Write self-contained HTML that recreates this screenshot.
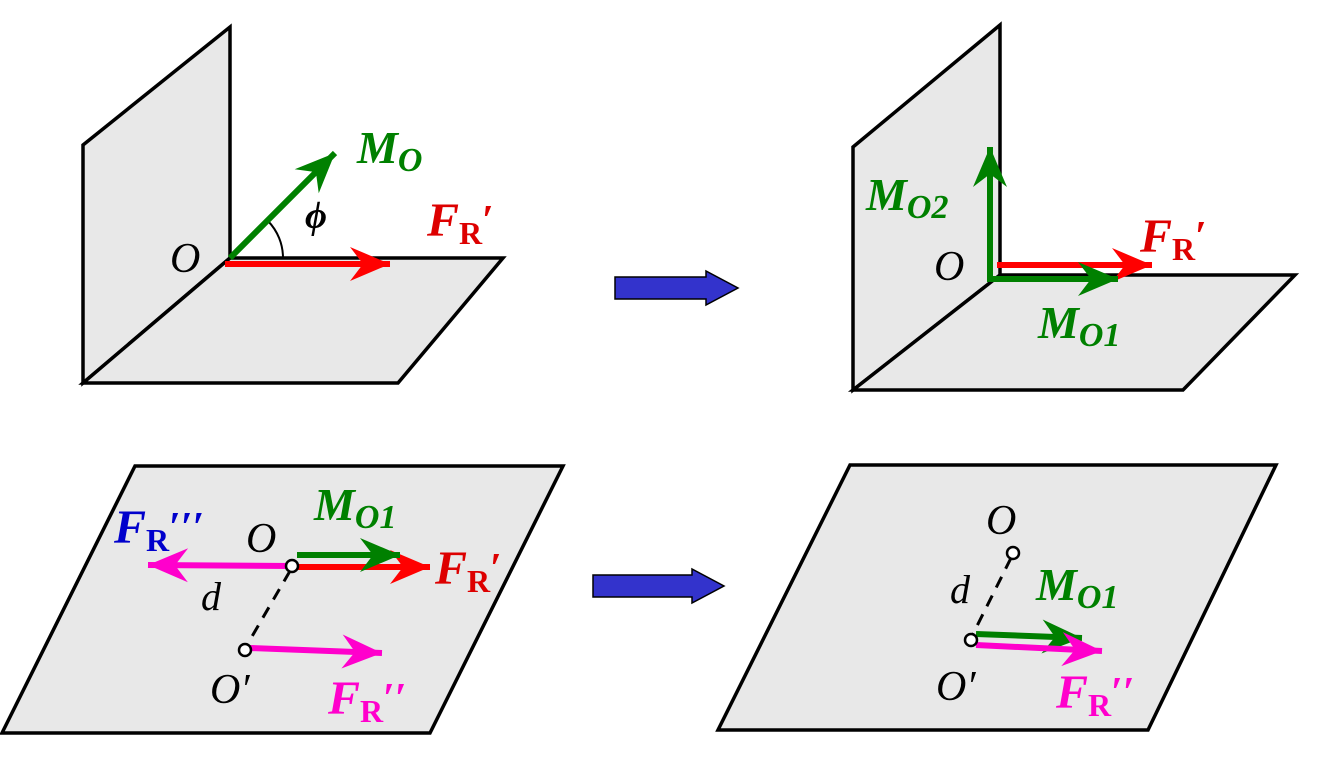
<!DOCTYPE html>
<html><head><meta charset="utf-8"><style>
html,body{margin:0;padding:0;background:#fff}
svg{display:block}
text{font-family:"Liberation Serif",serif}
.b{font-weight:bold;font-style:italic}
.i{font-style:italic}
</style></head><body>
<svg width="1334" height="774" viewBox="0 0 1334 774" xmlns="http://www.w3.org/2000/svg">
<defs>
<marker id="hg" markerUnits="userSpaceOnUse" markerWidth="50" markerHeight="44" refX="0" refY="0" viewBox="-44 -22 50 44" orient="auto"><path d="M0,0 L-40,-17 L-27,0 L-40,17 Z" fill="#008000"/></marker>
<marker id="hr" markerUnits="userSpaceOnUse" markerWidth="50" markerHeight="44" refX="0" refY="0" viewBox="-44 -22 50 44" orient="auto"><path d="M0,0 L-40,-17 L-27,0 L-40,17 Z" fill="#ff0000"/></marker>
<marker id="hm" markerUnits="userSpaceOnUse" markerWidth="50" markerHeight="44" refX="0" refY="0" viewBox="-44 -22 50 44" orient="auto"><path d="M0,0 L-40,-17 L-27,0 L-40,17 Z" fill="#ff00cc"/></marker>
</defs>
<g stroke="#000" stroke-width="3.5" fill="#e8e8e8" stroke-linejoin="miter">
<polygon points="83,145 230,27 230,258 83,383"/>
<polygon points="230,258 503,258 398,383 83,383"/>
<polygon points="853,147 1000,25 1000,275 853,390"/>
<polygon points="1000,275 1295,275 1183,390 853,390"/>
<polygon points="135,466 563,466 430,733 2,733"/>
<polygon points="850,465 1276,465 1148,730 718,730"/>
</g>
<!-- top-left -->
<path d="M283,258 A53,53 0 0 0 268,221" fill="none" stroke="#000" stroke-width="2"/>
<line x1="230" y1="258" x2="335" y2="153" stroke="#008000" stroke-width="6" marker-end="url(#hg)"/>
<line x1="225" y1="264" x2="390" y2="264" stroke="#ff0000" stroke-width="6" marker-end="url(#hr)"/>
<text x="357" y="163" class="b" font-size="46" fill="#008000">M<tspan font-size="34" dy="8">O</tspan></text>
<text x="305" y="228" class="b" font-size="38" fill="#000">ϕ</text>
<text x="427" y="236" class="b" font-size="48" fill="#dd0000">F<tspan font-size="32" dy="8" font-style="normal">R</tspan><tspan dy="-10" font-size="42" font-style="normal">′</tspan></text>
<text x="170" y="272" class="i" font-size="42">O</text>
<!-- middle arrows -->
<polygon points="615,277 706,277 706,271 738,288 706,305 706,299 615,299" fill="#3333cc" stroke="#000" stroke-width="1.5"/>
<polygon points="593,575 692,575 692,569 724,586 692,603 692,597 593,597" fill="#3333cc" stroke="#000" stroke-width="1.5"/>
<!-- top-right -->
<line x1="990" y1="282" x2="990" y2="147" stroke="#008000" stroke-width="6" marker-end="url(#hg)"/>
<line x1="997" y1="265" x2="1152" y2="265" stroke="#ff0000" stroke-width="6" marker-end="url(#hr)"/>
<line x1="987" y1="279" x2="1118" y2="279" stroke="#008000" stroke-width="6" marker-end="url(#hg)"/>
<text x="866" y="210" class="b" font-size="46" fill="#008000">M<tspan font-size="34" dy="8">O2</tspan></text>
<text x="934" y="280" class="i" font-size="42">O</text>
<text x="1140" y="252" class="b" font-size="48" fill="#dd0000">F<tspan font-size="32" dy="8" font-style="normal">R</tspan><tspan dy="-10" font-size="42" font-style="normal">′</tspan></text>
<text x="1038" y="338" class="b" font-size="46" fill="#008000">M<tspan font-size="34" dy="8">O1</tspan></text>
<!-- bottom-left -->
<line x1="292" y1="566" x2="148" y2="565" stroke="#ff00cc" stroke-width="6" marker-end="url(#hm)"/>
<line x1="292" y1="567" x2="430" y2="567" stroke="#ff0000" stroke-width="6" marker-end="url(#hr)"/>
<line x1="297" y1="555" x2="400" y2="555" stroke="#008000" stroke-width="6" marker-end="url(#hg)"/>
<line x1="290" y1="571" x2="247" y2="645" stroke="#000" stroke-width="3" stroke-dasharray="12,9"/>
<line x1="250" y1="648" x2="382" y2="653" stroke="#ff00cc" stroke-width="6" marker-end="url(#hm)"/>
<circle cx="292" cy="566" r="6" fill="#fff" stroke="#000" stroke-width="2.5"/>
<circle cx="245" cy="650" r="6" fill="#fff" stroke="#000" stroke-width="2.5"/>
<text x="314" y="520" class="b" font-size="46" fill="#008000">M<tspan font-size="34" dy="8">O1</tspan></text>
<text x="114" y="543" class="b" font-size="48" fill="#0000cc">F<tspan font-size="32" dy="8" font-style="normal">R</tspan><tspan dy="-10" font-size="42" font-style="normal">′′′</tspan></text>
<text x="246" y="552" class="i" font-size="42">O</text>
<text x="435" y="584" class="b" font-size="48" fill="#dd0000">F<tspan font-size="32" dy="8" font-style="normal">R</tspan><tspan dy="-10" font-size="42" font-style="normal">′</tspan></text>
<text x="201" y="610" class="i" font-size="40">d</text>
<text x="210" y="703" class="i" font-size="42">O′</text>
<text x="328" y="714" class="b" font-size="48" fill="#ff00cc">F<tspan font-size="32" dy="8" font-style="normal">R</tspan><tspan dy="-10" font-size="42" font-style="normal">′′</tspan></text>
<!-- bottom-right -->
<line x1="1011" y1="558" x2="973" y2="634" stroke="#000" stroke-width="3" stroke-dasharray="12,9"/>
<line x1="976" y1="634" x2="1082" y2="638" stroke="#008000" stroke-width="6" marker-end="url(#hg)"/>
<line x1="976" y1="645" x2="1102" y2="651" stroke="#ff00cc" stroke-width="6" marker-end="url(#hm)"/>
<circle cx="1013" cy="553" r="6" fill="#fff" stroke="#000" stroke-width="2.5"/>
<circle cx="971" cy="640" r="6" fill="#fff" stroke="#000" stroke-width="2.5"/>
<text x="986" y="534" class="i" font-size="42">O</text>
<text x="950" y="603" class="i" font-size="40">d</text>
<text x="1036" y="600" class="b" font-size="46" fill="#008000">M<tspan font-size="34" dy="8">O1</tspan></text>
<text x="936" y="700" class="i" font-size="42">O′</text>
<text x="1056" y="708" class="b" font-size="48" fill="#ff00cc">F<tspan font-size="32" dy="8" font-style="normal">R</tspan><tspan dy="-10" font-size="42" font-style="normal">′′</tspan></text>
</svg>
</body></html>
